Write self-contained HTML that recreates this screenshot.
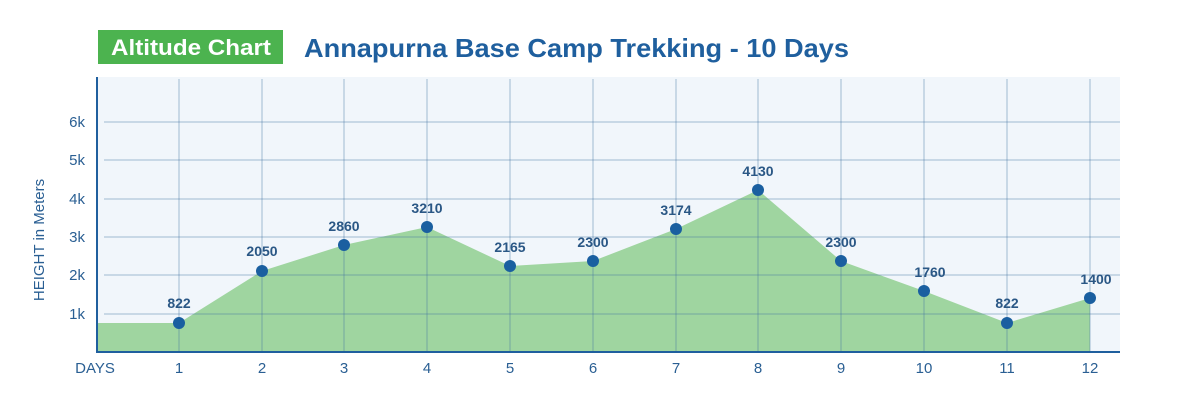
<!DOCTYPE html>
<html><head><meta charset="utf-8"><style>
body{margin:0;width:1200px;height:400px;background:#fff;overflow:hidden;font-family:"Liberation Sans",sans-serif}
</style></head><body>
<svg width="1200" height="400" viewBox="0 0 1200 400" xmlns="http://www.w3.org/2000/svg" font-family="Liberation Sans, sans-serif">
<rect x="98" y="30" width="185" height="34" fill="#4cb34f"/>
<text x="111" y="55" textLength="160" lengthAdjust="spacingAndGlyphs" font-size="22" fill="#fff" font-weight="bold">Altitude Chart</text>
<text x="304" y="57" textLength="545" lengthAdjust="spacingAndGlyphs" font-size="26" fill="#1f5f9e" font-weight="bold">Annapurna Base Camp Trekking - 10 Days</text>
<rect x="97" y="77" width="1023" height="275" fill="#f1f6fb"/>
<polygon points="97,323 179,323 262,271 344,245 427,227 510,266 593,261 676,229 758,190 841,261 924,291 1007,323 1090,298 1090,352 97,352" fill="#9fd5a0"/>
<g stroke="#3f6f9f" stroke-opacity="0.45" stroke-width="1">
<line x1="104" y1="122" x2="1120" y2="122"/><line x1="104" y1="160" x2="1120" y2="160"/><line x1="104" y1="199" x2="1120" y2="199"/><line x1="104" y1="237" x2="1120" y2="237"/><line x1="104" y1="275" x2="1120" y2="275"/><line x1="104" y1="314" x2="1120" y2="314"/>
<line x1="179" y1="79" x2="179" y2="352"/><line x1="262" y1="79" x2="262" y2="352"/><line x1="344" y1="79" x2="344" y2="352"/><line x1="427" y1="79" x2="427" y2="352"/><line x1="510" y1="79" x2="510" y2="352"/><line x1="593" y1="79" x2="593" y2="352"/><line x1="676" y1="79" x2="676" y2="352"/><line x1="758" y1="79" x2="758" y2="352"/><line x1="841" y1="79" x2="841" y2="352"/><line x1="924" y1="79" x2="924" y2="352"/><line x1="1007" y1="79" x2="1007" y2="352"/><line x1="1090" y1="79" x2="1090" y2="352"/>
</g>
<line x1="97" y1="77" x2="97" y2="353" stroke="#1f5f9e" stroke-width="2"/>
<line x1="96" y1="352" x2="1120" y2="352" stroke="#1f5f9e" stroke-width="2"/>
<g font-size="15" fill="#2a5f93" text-anchor="end">
<text x="85" y="127">6k</text><text x="85" y="165">5k</text><text x="85" y="204">4k</text><text x="85" y="242">3k</text><text x="85" y="280">2k</text><text x="85" y="319">1k</text>
</g>
<text transform="translate(44,240) rotate(-90)" text-anchor="middle" font-size="15" fill="#2a5f93">HEIGHT in Meters</text>
<g font-size="15" fill="#2a5f93" text-anchor="middle">
<text x="95" y="373">DAYS</text>
<text x="179" y="373">1</text><text x="262" y="373">2</text><text x="344" y="373">3</text><text x="427" y="373">4</text><text x="510" y="373">5</text><text x="593" y="373">6</text><text x="676" y="373">7</text><text x="758" y="373">8</text><text x="841" y="373">9</text><text x="924" y="373">10</text><text x="1007" y="373">11</text><text x="1090" y="373">12</text>
</g>
<g fill="#1a5fa0">
<circle cx="179" cy="323" r="6"/><circle cx="262" cy="271" r="6"/><circle cx="344" cy="245" r="6"/><circle cx="427" cy="227" r="6"/><circle cx="510" cy="266" r="6"/><circle cx="593" cy="261" r="6"/><circle cx="676" cy="229" r="6"/><circle cx="758" cy="190" r="6"/><circle cx="841" cy="261" r="6"/><circle cx="924" cy="291" r="6"/><circle cx="1007" cy="323" r="6"/><circle cx="1090" cy="298" r="6"/>
</g>
<g font-size="14" font-weight="bold" fill="#2a5785" text-anchor="middle">
<text x="179" y="308">822</text><text x="262" y="256">2050</text><text x="344" y="231">2860</text><text x="427" y="213">3210</text><text x="510" y="252">2165</text><text x="593" y="247">2300</text><text x="676" y="215">3174</text><text x="758" y="176">4130</text><text x="841" y="247">2300</text><text x="930" y="277">1760</text><text x="1007" y="308">822</text><text x="1096" y="284">1400</text>
</g>
</svg>
</body></html>
